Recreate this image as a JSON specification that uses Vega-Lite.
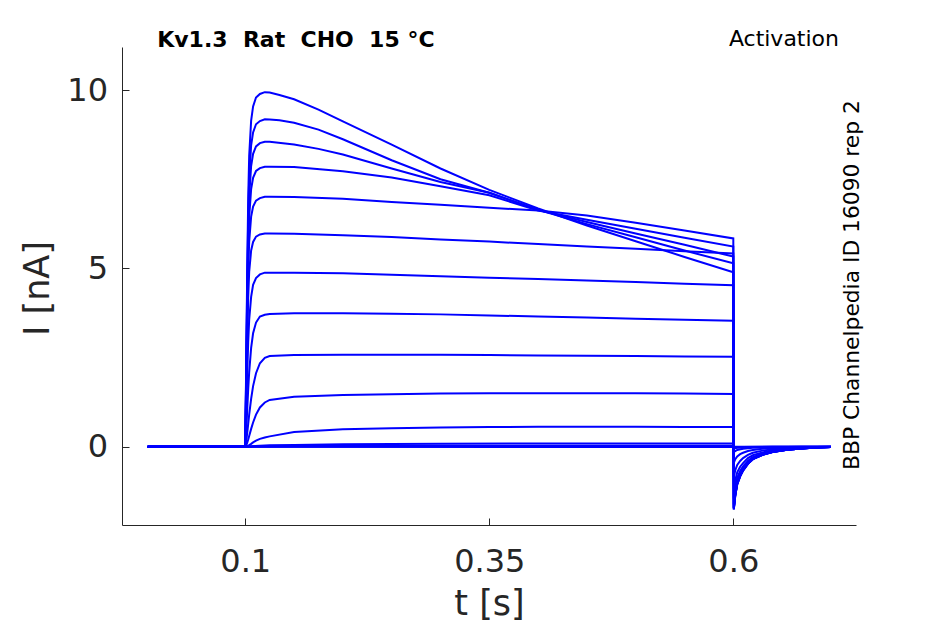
{
  "$schema": "https://vega.github.io/schema/vega-lite/v6.json",
  "width": 734,
  "height": 478,
  "autosize": {"type": "none"},
  "padding": {"left": 122, "top": 47, "right": 89, "bottom": 99},
  "background": "white",
  "datasets": {
    "traces": [
      {"k":1,"t":0,"i":0},{"k":1,"t":0.1,"i":0},{"k":1,"t":0.101,"i":2.49},{"k":1,"t":0.102,"i":4.97},{"k":1,"t":0.103,"i":6.96},{"k":1,"t":0.104,"i":8.15},{"k":1,"t":0.106,"i":9.14},{"k":1,"t":0.108,"i":9.54},{"k":1,"t":0.111,"i":9.79},{"k":1,"t":0.115,"i":9.89},{"k":1,"t":0.12,"i":9.94},{"k":1,"t":0.125,"i":9.93},{"k":1,"t":0.135,"i":9.86},{"k":1,"t":0.15,"i":9.74},{"k":1,"t":0.175,"i":9.45},{"k":1,"t":0.2,"i":9.12},{"k":1,"t":0.25,"i":8.47},{"k":1,"t":0.3,"i":7.80},{"k":1,"t":0.35,"i":7.20},{"k":1,"t":0.4,"i":6.68},{"k":1,"t":0.45,"i":6.20},{"k":1,"t":0.5,"i":5.76},{"k":1,"t":0.55,"i":5.32},{"k":1,"t":0.6,"i":4.89},
      {"k":1,"t":0.6005,"i":-1.70},{"k":1,"t":0.602,"i":-1.33},{"k":1,"t":0.604,"i":-1.02},{"k":1,"t":0.607,"i":-0.80},{"k":1,"t":0.61,"i":-0.65},{"k":1,"t":0.615,"i":-0.46},{"k":1,"t":0.62,"i":-0.34},{"k":1,"t":0.63,"i":-0.22},{"k":1,"t":0.64,"i":-0.14},{"k":1,"t":0.655,"i":-0.085},{"k":1,"t":0.67,"i":-0.048},{"k":1,"t":0.685,"i":-0.02},{"k":1,"t":0.7,"i":-0.009},
      {"k":2,"t":0,"i":0},{"k":2,"t":0.1,"i":0},{"k":2,"t":0.101,"i":2.30},{"k":2,"t":0.102,"i":4.59},{"k":2,"t":0.103,"i":6.43},{"k":2,"t":0.104,"i":7.53},{"k":2,"t":0.106,"i":8.45},{"k":2,"t":0.108,"i":8.81},{"k":2,"t":0.111,"i":9.04},{"k":2,"t":0.115,"i":9.13},{"k":2,"t":0.12,"i":9.18},{"k":2,"t":0.125,"i":9.17},{"k":2,"t":0.135,"i":9.15},{"k":2,"t":0.15,"i":9.08},{"k":2,"t":0.175,"i":8.89},{"k":2,"t":0.2,"i":8.62},{"k":2,"t":0.25,"i":8.03},{"k":2,"t":0.3,"i":7.50},{"k":2,"t":0.35,"i":7.12},{"k":2,"t":0.4,"i":6.64},{"k":2,"t":0.45,"i":6.24},{"k":2,"t":0.5,"i":5.87},{"k":2,"t":0.55,"i":5.50},{"k":2,"t":0.6,"i":5.14},
      {"k":2,"t":0.6005,"i":-1.72},{"k":2,"t":0.602,"i":-1.34},{"k":2,"t":0.604,"i":-1.03},{"k":2,"t":0.607,"i":-0.81},{"k":2,"t":0.61,"i":-0.65},{"k":2,"t":0.615,"i":-0.46},{"k":2,"t":0.62,"i":-0.34},{"k":2,"t":0.63,"i":-0.22},{"k":2,"t":0.64,"i":-0.15},{"k":2,"t":0.655,"i":-0.086},{"k":2,"t":0.67,"i":-0.048},{"k":2,"t":0.685,"i":-0.021},{"k":2,"t":0.7,"i":-0.009},
      {"k":3,"t":0,"i":0},{"k":3,"t":0.1,"i":0},{"k":3,"t":0.101,"i":2.14},{"k":3,"t":0.102,"i":4.28},{"k":3,"t":0.103,"i":5.99},{"k":3,"t":0.104,"i":7.01},{"k":3,"t":0.106,"i":7.87},{"k":3,"t":0.108,"i":8.21},{"k":3,"t":0.111,"i":8.42},{"k":3,"t":0.115,"i":8.51},{"k":3,"t":0.12,"i":8.55},{"k":3,"t":0.125,"i":8.55},{"k":3,"t":0.15,"i":8.47},{"k":3,"t":0.175,"i":8.35},{"k":3,"t":0.2,"i":8.19},{"k":3,"t":0.25,"i":7.80},{"k":3,"t":0.3,"i":7.42},{"k":3,"t":0.35,"i":7.12},{"k":3,"t":0.4,"i":6.64},{"k":3,"t":0.45,"i":6.30},{"k":3,"t":0.5,"i":5.98},{"k":3,"t":0.55,"i":5.66},{"k":3,"t":0.6,"i":5.33},
      {"k":3,"t":0.6005,"i":-1.74},{"k":3,"t":0.602,"i":-1.36},{"k":3,"t":0.604,"i":-1.04},{"k":3,"t":0.607,"i":-0.82},{"k":3,"t":0.61,"i":-0.66},{"k":3,"t":0.615,"i":-0.47},{"k":3,"t":0.62,"i":-0.35},{"k":3,"t":0.63,"i":-0.23},{"k":3,"t":0.64,"i":-0.15},{"k":3,"t":0.655,"i":-0.087},{"k":3,"t":0.67,"i":-0.049},{"k":3,"t":0.685,"i":-0.021},{"k":3,"t":0.7,"i":-0.009},
      {"k":4,"t":0,"i":0},{"k":4,"t":0.1,"i":0},{"k":4,"t":0.101,"i":1.96},{"k":4,"t":0.102,"i":3.93},{"k":4,"t":0.103,"i":5.50},{"k":4,"t":0.104,"i":6.44},{"k":4,"t":0.106,"i":7.22},{"k":4,"t":0.108,"i":7.54},{"k":4,"t":0.111,"i":7.73},{"k":4,"t":0.115,"i":7.81},{"k":4,"t":0.12,"i":7.85},{"k":4,"t":0.125,"i":7.85},{"k":4,"t":0.15,"i":7.84},{"k":4,"t":0.2,"i":7.72},{"k":4,"t":0.25,"i":7.55},{"k":4,"t":0.3,"i":7.30},{"k":4,"t":0.35,"i":7.05},{"k":4,"t":0.4,"i":6.62},{"k":4,"t":0.45,"i":6.36},{"k":4,"t":0.5,"i":6.11},{"k":4,"t":0.55,"i":5.86},{"k":4,"t":0.6,"i":5.61},
      {"k":4,"t":0.6005,"i":-1.76},{"k":4,"t":0.602,"i":-1.37},{"k":4,"t":0.604,"i":-1.06},{"k":4,"t":0.607,"i":-0.83},{"k":4,"t":0.61,"i":-0.67},{"k":4,"t":0.615,"i":-0.48},{"k":4,"t":0.62,"i":-0.35},{"k":4,"t":0.63,"i":-0.23},{"k":4,"t":0.64,"i":-0.15},{"k":4,"t":0.655,"i":-0.088},{"k":4,"t":0.67,"i":-0.049},{"k":4,"t":0.685,"i":-0.021},{"k":4,"t":0.7,"i":-0.009},
      {"k":5,"t":0,"i":0},{"k":5,"t":0.1,"i":0},{"k":5,"t":0.101,"i":1.75},{"k":5,"t":0.102,"i":3.51},{"k":5,"t":0.103,"i":4.91},{"k":5,"t":0.104,"i":5.75},{"k":5,"t":0.106,"i":6.45},{"k":5,"t":0.108,"i":6.73},{"k":5,"t":0.111,"i":6.90},{"k":5,"t":0.115,"i":6.97},{"k":5,"t":0.12,"i":7.01},{"k":5,"t":0.125,"i":7.01},{"k":5,"t":0.15,"i":7.00},{"k":5,"t":0.2,"i":6.95},{"k":5,"t":0.25,"i":6.86},{"k":5,"t":0.3,"i":6.78},{"k":5,"t":0.35,"i":6.70},{"k":5,"t":0.4,"i":6.62},{"k":5,"t":0.45,"i":6.48},{"k":5,"t":0.5,"i":6.28},{"k":5,"t":0.55,"i":6.06},{"k":5,"t":0.6,"i":5.84},
      {"k":5,"t":0.6005,"i":-1.76},{"k":5,"t":0.602,"i":-1.37},{"k":5,"t":0.604,"i":-1.06},{"k":5,"t":0.607,"i":-0.83},{"k":5,"t":0.61,"i":-0.67},{"k":5,"t":0.615,"i":-0.48},{"k":5,"t":0.62,"i":-0.35},{"k":5,"t":0.63,"i":-0.23},{"k":5,"t":0.64,"i":-0.15},{"k":5,"t":0.655,"i":-0.088},{"k":5,"t":0.67,"i":-0.049},{"k":5,"t":0.685,"i":-0.021},{"k":5,"t":0.7,"i":-0.009},
      {"k":6,"t":0,"i":0},{"k":6,"t":0.1,"i":0},{"k":6,"t":0.101,"i":1.50},{"k":6,"t":0.102,"i":2.99},{"k":6,"t":0.103,"i":4.19},{"k":6,"t":0.104,"i":4.90},{"k":6,"t":0.106,"i":5.50},{"k":6,"t":0.108,"i":5.74},{"k":6,"t":0.111,"i":5.89},{"k":6,"t":0.115,"i":5.95},{"k":6,"t":0.12,"i":5.98},{"k":6,"t":0.125,"i":5.98},{"k":6,"t":0.15,"i":5.97},{"k":6,"t":0.2,"i":5.93},{"k":6,"t":0.25,"i":5.88},{"k":6,"t":0.3,"i":5.81},{"k":6,"t":0.35,"i":5.75},{"k":6,"t":0.4,"i":5.68},{"k":6,"t":0.45,"i":5.61},{"k":6,"t":0.5,"i":5.55},{"k":6,"t":0.55,"i":5.48},{"k":6,"t":0.6,"i":5.42},
      {"k":6,"t":0.6005,"i":-1.72},{"k":6,"t":0.602,"i":-1.34},{"k":6,"t":0.604,"i":-1.03},{"k":6,"t":0.607,"i":-0.81},{"k":6,"t":0.61,"i":-0.65},{"k":6,"t":0.615,"i":-0.46},{"k":6,"t":0.62,"i":-0.34},{"k":6,"t":0.63,"i":-0.22},{"k":6,"t":0.64,"i":-0.15},{"k":6,"t":0.655,"i":-0.086},{"k":6,"t":0.67,"i":-0.048},{"k":6,"t":0.685,"i":-0.021},{"k":6,"t":0.7,"i":-0.009},
      {"k":7,"t":0,"i":0},{"k":7,"t":0.1,"i":0},{"k":7,"t":0.101,"i":0.98},{"k":7,"t":0.102,"i":2.05},{"k":7,"t":0.103,"i":2.93},{"k":7,"t":0.104,"i":3.56},{"k":7,"t":0.106,"i":4.20},{"k":7,"t":0.108,"i":4.54},{"k":7,"t":0.111,"i":4.73},{"k":7,"t":0.115,"i":4.83},{"k":7,"t":0.12,"i":4.88},{"k":7,"t":0.125,"i":4.88},{"k":7,"t":0.15,"i":4.88},{"k":7,"t":0.2,"i":4.86},{"k":7,"t":0.25,"i":4.82},{"k":7,"t":0.3,"i":4.78},{"k":7,"t":0.35,"i":4.74},{"k":7,"t":0.4,"i":4.70},{"k":7,"t":0.45,"i":4.66},{"k":7,"t":0.5,"i":4.62},{"k":7,"t":0.55,"i":4.57},{"k":7,"t":0.6,"i":4.53},
      {"k":7,"t":0.6005,"i":-1.62},{"k":7,"t":0.602,"i":-1.26},{"k":7,"t":0.604,"i":-0.97},{"k":7,"t":0.607,"i":-0.76},{"k":7,"t":0.61,"i":-0.62},{"k":7,"t":0.615,"i":-0.44},{"k":7,"t":0.62,"i":-0.32},{"k":7,"t":0.63,"i":-0.21},{"k":7,"t":0.64,"i":-0.14},{"k":7,"t":0.655,"i":-0.081},{"k":7,"t":0.67,"i":-0.045},{"k":7,"t":0.685,"i":-0.019},{"k":7,"t":0.7,"i":-0.008},
      {"k":8,"t":0,"i":0},{"k":8,"t":0.1,"i":0},{"k":8,"t":0.101,"i":0.45},{"k":8,"t":0.102,"i":1.05},{"k":8,"t":0.103,"i":1.61},{"k":8,"t":0.104,"i":2.09},{"k":8,"t":0.106,"i":2.77},{"k":8,"t":0.108,"i":3.18},{"k":8,"t":0.111,"i":3.48},{"k":8,"t":0.115,"i":3.65},{"k":8,"t":0.12,"i":3.70},{"k":8,"t":0.125,"i":3.72},{"k":8,"t":0.15,"i":3.74},{"k":8,"t":0.2,"i":3.74},{"k":8,"t":0.25,"i":3.73},{"k":8,"t":0.3,"i":3.71},{"k":8,"t":0.35,"i":3.68},{"k":8,"t":0.4,"i":3.65},{"k":8,"t":0.45,"i":3.62},{"k":8,"t":0.5,"i":3.59},{"k":8,"t":0.55,"i":3.56},{"k":8,"t":0.6,"i":3.53},
      {"k":8,"t":0.6005,"i":-1.45},{"k":8,"t":0.602,"i":-1.13},{"k":8,"t":0.604,"i":-0.87},{"k":8,"t":0.607,"i":-0.68},{"k":8,"t":0.61,"i":-0.55},{"k":8,"t":0.615,"i":-0.39},{"k":8,"t":0.62,"i":-0.29},{"k":8,"t":0.63,"i":-0.19},{"k":8,"t":0.64,"i":-0.12},{"k":8,"t":0.655,"i":-0.073},{"k":8,"t":0.67,"i":-0.041},{"k":8,"t":0.685,"i":-0.017},{"k":8,"t":0.7,"i":-0.007},
      {"k":9,"t":0,"i":0},{"k":9,"t":0.1,"i":0},{"k":9,"t":0.101,"i":0.15},{"k":9,"t":0.102,"i":0.39},{"k":9,"t":0.103,"i":0.64},{"k":9,"t":0.104,"i":0.90},{"k":9,"t":0.106,"i":1.34},{"k":9,"t":0.108,"i":1.70},{"k":9,"t":0.111,"i":2.06},{"k":9,"t":0.115,"i":2.34},{"k":9,"t":0.12,"i":2.49},{"k":9,"t":0.125,"i":2.54},{"k":9,"t":0.15,"i":2.57},{"k":9,"t":0.2,"i":2.58},{"k":9,"t":0.25,"i":2.58},{"k":9,"t":0.3,"i":2.58},{"k":9,"t":0.35,"i":2.57},{"k":9,"t":0.4,"i":2.56},{"k":9,"t":0.45,"i":2.55},{"k":9,"t":0.5,"i":2.54},{"k":9,"t":0.55,"i":2.53},{"k":9,"t":0.6,"i":2.52},
      {"k":9,"t":0.6005,"i":-1.20},{"k":9,"t":0.602,"i":-0.94},{"k":9,"t":0.604,"i":-0.72},{"k":9,"t":0.607,"i":-0.56},{"k":9,"t":0.61,"i":-0.46},{"k":9,"t":0.615,"i":-0.32},{"k":9,"t":0.62,"i":-0.24},{"k":9,"t":0.63,"i":-0.16},{"k":9,"t":0.64,"i":-0.10},{"k":9,"t":0.655,"i":-0.06},{"k":9,"t":0.67,"i":-0.034},{"k":9,"t":0.685,"i":-0.014},{"k":9,"t":0.7,"i":-0.006},
      {"k":10,"t":0,"i":0},{"k":10,"t":0.1,"i":0},{"k":10,"t":0.101,"i":0.04},{"k":10,"t":0.102,"i":0.11},{"k":10,"t":0.103,"i":0.20},{"k":10,"t":0.104,"i":0.30},{"k":10,"t":0.106,"i":0.50},{"k":10,"t":0.108,"i":0.68},{"k":10,"t":0.111,"i":0.90},{"k":10,"t":0.115,"i":1.10},{"k":10,"t":0.12,"i":1.24},{"k":10,"t":0.125,"i":1.31},{"k":10,"t":0.15,"i":1.40},{"k":10,"t":0.2,"i":1.45},{"k":10,"t":0.25,"i":1.47},{"k":10,"t":0.3,"i":1.49},{"k":10,"t":0.35,"i":1.50},{"k":10,"t":0.4,"i":1.50},{"k":10,"t":0.45,"i":1.50},{"k":10,"t":0.5,"i":1.50},{"k":10,"t":0.55,"i":1.49},{"k":10,"t":0.6,"i":1.48},
      {"k":10,"t":0.6005,"i":-0.85},{"k":10,"t":0.602,"i":-0.66},{"k":10,"t":0.604,"i":-0.51},{"k":10,"t":0.607,"i":-0.40},{"k":10,"t":0.61,"i":-0.32},{"k":10,"t":0.615,"i":-0.23},{"k":10,"t":0.62,"i":-0.17},{"k":10,"t":0.63,"i":-0.11},{"k":10,"t":0.64,"i":-0.072},{"k":10,"t":0.655,"i":-0.043},{"k":10,"t":0.67,"i":-0.024},{"k":10,"t":0.685,"i":-0.01},{"k":10,"t":0.7,"i":-0.004},
      {"k":11,"t":0,"i":0},{"k":11,"t":0.1,"i":0},{"k":11,"t":0.101,"i":0.005},{"k":11,"t":0.102,"i":0.015},{"k":11,"t":0.103,"i":0.03},{"k":11,"t":0.104,"i":0.045},{"k":11,"t":0.106,"i":0.08},{"k":11,"t":0.108,"i":0.12},{"k":11,"t":0.111,"i":0.17},{"k":11,"t":0.115,"i":0.22},{"k":11,"t":0.12,"i":0.26},{"k":11,"t":0.125,"i":0.29},{"k":11,"t":0.15,"i":0.41},{"k":11,"t":0.2,"i":0.49},{"k":11,"t":0.25,"i":0.52},{"k":11,"t":0.3,"i":0.54},{"k":11,"t":0.35,"i":0.55},{"k":11,"t":0.4,"i":0.56},{"k":11,"t":0.45,"i":0.56},{"k":11,"t":0.5,"i":0.56},{"k":11,"t":0.55,"i":0.55},{"k":11,"t":0.6,"i":0.55},
      {"k":11,"t":0.6005,"i":-0.45},{"k":11,"t":0.602,"i":-0.35},{"k":11,"t":0.604,"i":-0.27},{"k":11,"t":0.607,"i":-0.21},{"k":11,"t":0.61,"i":-0.17},{"k":11,"t":0.615,"i":-0.12},{"k":11,"t":0.62,"i":-0.09},{"k":11,"t":0.63,"i":-0.059},{"k":11,"t":0.64,"i":-0.038},{"k":11,"t":0.655,"i":-0.023},{"k":11,"t":0.67,"i":-0.013},{"k":11,"t":0.685,"i":-0.005},{"k":11,"t":0.7,"i":-0.002},
      {"k":12,"t":0,"i":0},{"k":12,"t":0.1,"i":0},{"k":12,"t":0.11,"i":0.02},{"k":12,"t":0.125,"i":0.04},{"k":12,"t":0.15,"i":0.05},{"k":12,"t":0.2,"i":0.07},{"k":12,"t":0.3,"i":0.08},{"k":12,"t":0.4,"i":0.09},{"k":12,"t":0.6,"i":0.09},{"k":12,"t":0.6005,"i":-0.15},{"k":12,"t":0.604,"i":-0.09},{"k":12,"t":0.61,"i":-0.057},{"k":12,"t":0.62,"i":-0.03},{"k":12,"t":0.64,"i":-0.013},{"k":12,"t":0.67,"i":-0.004},{"k":12,"t":0.7,"i":0},
      {"k":13,"t":0,"i":0},{"k":13,"t":0.1,"i":0},{"k":13,"t":0.15,"i":0.02},{"k":13,"t":0.3,"i":0.03},{"k":13,"t":0.6,"i":0.03},{"k":13,"t":0.6005,"i":-0.05},{"k":13,"t":0.604,"i":-0.03},{"k":13,"t":0.61,"i":-0.019},{"k":13,"t":0.62,"i":-0.01},{"k":13,"t":0.64,"i":-0.004},{"k":13,"t":0.7,"i":0},
      {"k":14,"t":0,"i":0},{"k":14,"t":0.1,"i":0},{"k":14,"t":0.6,"i":0.01},{"k":14,"t":0.6005,"i":-0.02},{"k":14,"t":0.61,"i":-0.008},{"k":14,"t":0.64,"i":-0.002},{"k":14,"t":0.7,"i":0},
      {"k":15,"t":0,"i":0},{"k":15,"t":0.6,"i":-0.01},{"k":15,"t":0.6005,"i":0},{"k":15,"t":0.7,"i":0}
    ],
    "notes": [
      {"label": "Kv1.3\u00a0\u00a0Rat\u00a0\u00a0CHO\u00a0\u00a015 °C", "kind": "head"},
      {"label": "Activation", "kind": "side"},
      {"label": "BBP Channelpedia ID 16090 rep 2", "kind": "id"}
    ]
  },
  "layer": [
    {
      "data": {"name": "traces"},
      "mark": {"type": "line", "color": "#0000ff", "strokeWidth": 2},
      "encoding": {
        "x": {
          "field": "t",
          "type": "quantitative",
          "scale": {"domain": [-0.0263, 0.7257], "nice": false, "zero": false},
          "axis": {
            "title": "t [s]",
            "values": [0.1, 0.35, 0.6],
            "format": "~g",
            "labelPadding": 28,
            "labelFlush": false,
            "titleY": 78,
            "titleBaseline": "middle"
          }
        },
        "y": {
          "field": "i",
          "type": "quantitative",
          "scale": {"domain": [-2.195, 11.206], "nice": false, "zero": false},
          "axis": {
            "title": "I [nA]",
            "values": [0, 5, 10],
            "format": "~g",
            "labelPadding": 21.5,
            "labelFlush": false,
            "titleAngle": -90,
            "titleX": -85,
            "titleY": 241,
            "titleAlign": "center",
            "titleBaseline": "middle"
          }
        },
        "detail": {"field": "k", "type": "nominal"}
      }
    },
    {
      "data": {"name": "notes"},
      "transform": [{"filter": "datum.kind == 'head'"}],
      "mark": {"type": "text", "align": "left", "baseline": "alphabetic", "font": "DejaVu Sans", "fontSize": 22, "fontWeight": "bold", "color": "black"},
      "encoding": {
        "x": {"datum": 0.0098, "type": "quantitative"},
        "y": {"datum": 11.21, "type": "quantitative"},
        "text": {"field": "label"}
      }
    },
    {
      "data": {"name": "notes"},
      "transform": [{"filter": "datum.kind == 'side'"}],
      "mark": {"type": "text", "align": "right", "baseline": "alphabetic", "font": "DejaVu Sans", "fontSize": 22, "color": "black"},
      "encoding": {
        "x": {"datum": 0.7083, "type": "quantitative"},
        "y": {"datum": 11.233, "type": "quantitative"},
        "text": {"field": "label"}
      }
    },
    {
      "data": {"name": "notes"},
      "transform": [{"filter": "datum.kind == 'id'"}],
      "mark": {"type": "text", "angle": 270, "align": "center", "baseline": "middle", "font": "DejaVu Sans", "fontSize": 21.8, "color": "black"},
      "encoding": {
        "x": {"datum": 0.7214, "type": "quantitative"},
        "y": {"datum": 4.533, "type": "quantitative"},
        "text": {"field": "label"}
      }
    }
  ],
  "config": {
    "view": {"stroke": null},
    "font": "DejaVu Sans",
    "axis": {
      "grid": false,
      "domainColor": "#262626",
      "domainWidth": 1,
      "tickColor": "#262626",
      "tickWidth": 1,
      "tickSize": -7,
      "labelColor": "#262626",
      "titleColor": "#262626",
      "labelFont": "DejaVu Sans",
      "titleFont": "DejaVu Sans",
      "labelFontSize": 32,
      "titleFontSize": 35,
      "titleFontWeight": "normal"
    }
  }
}
